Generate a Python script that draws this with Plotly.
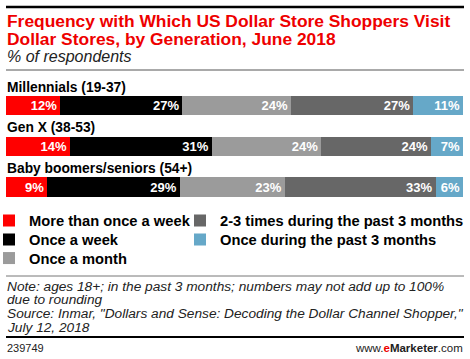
import plotly.graph_objects as go

W, H = 470, 359

groups = ["Millennials (19-37)", "Gen X (38-53)", "Baby boomers/seniors (54+)"]
series_names = [
    "More than once a week",
    "Once a week",
    "Once a month",
    "2-3 times during the past 3 months",
    "Once during the past 3 months",
]
more_than_once_week = [12, 14, 9]
once_week = [27, 31, 29]
once_month = [24, 24, 23]
two_three_times = [27, 24, 33]
once_past_3m = [11, 7, 6]
series_values = [more_than_once_week, once_week, once_month, two_three_times, once_past_3m]
colors = ["#ff0000", "#000000", "#9b9b9b", "#676767", "#66a8c8"]
legend_ids = ["legend", "legend2", "legend3", "legend4", "legend5"]

FONT = "Liberation Sans, Arial, sans-serif"


def py(p):
    return 1 - p / H


def px(p):
    return p / W


fig = go.Figure()
for name, vals, col, lg in zip(series_names, series_values, colors, legend_ids):
    fig.add_trace(go.Bar(
        y=groups, x=vals, name=name, orientation="h",
        marker=dict(color=col, line=dict(width=0)),
        text=[f"<b>{v}%</b>" for v in vals],
        textposition="inside", insidetextanchor="end", constraintext="none",
        textfont=dict(color="white", size=13, family=FONT),
        cliponaxis=False, legend=lg,
    ))

annotations = [
    dict(text="<b>Frequency with Which US Dollar Store Shoppers Visit</b>", x=px(5), y=py(21),
         font=dict(size=17.4, color="#ee0000", family=FONT)),
    dict(text="<b>Dollar Stores, by Generation, June 2018</b>", x=px(5), y=py(38.5),
         font=dict(size=17.4, color="#ee0000", family=FONT)),
    dict(text="<i>% of respondents</i>", x=px(5), y=py(56.5),
         font=dict(size=16, color="#222", family=FONT)),
    dict(text="<i>Note: ages 18+; in the past 3 months; numbers may not add up to 100%</i>",
         x=px(5), y=py(286), font=dict(size=13.7, color="#222", family=FONT)),
    dict(text="<i>due to rounding</i>", x=px(5), y=py(299.5), font=dict(size=13.7, color="#222", family=FONT)),
    dict(text="<i>Source: Inmar, \"Dollars and Sense: Decoding the Dollar Channel Shopper,\"</i>",
         x=px(5), y=py(313), font=dict(size=13.7, color="#222", family=FONT)),
    dict(text="<i>July 12, 2018</i>", x=px(5), y=py(327.5), font=dict(size=13.7, color="#222", family=FONT)),
    dict(text="239749", x=px(5), y=py(348), font=dict(size=11, color="#222", family=FONT)),
    dict(text="www.<b><span style='color:#ee0000'>e</span>Marketer</b>.com", x=px(465), y=py(348),
         xanchor="right", font=dict(size=11.5, color="#222", family=FONT)),
]
for a in annotations:
    a.setdefault("xanchor", "left")
    a.update(xref="paper", yref="paper", yanchor="middle", showarrow=False)

for g in groups:
    annotations.append(dict(
        text=f"<b>{g}</b>", xref="paper", yref="y", x=px(5), y=g, yshift=18.5,
        xanchor="left", yanchor="middle", showarrow=False,
        font=dict(size=13.8, color="#000", family=FONT)))

shapes = [
    dict(type="line", xref="paper", yref="paper", x0=px(6), x1=px(464), y0=py(7), y1=py(7),
         line=dict(color="#000", width=2.5)),
    dict(type="line", xref="paper", yref="paper", x0=px(6), x1=px(464), y0=py(70), y1=py(70),
         line=dict(color="#555", width=1)),
    dict(type="line", xref="paper", yref="paper", x0=px(6), x1=px(464), y0=py(276), y1=py(276),
         line=dict(color="#777", width=1)),
    dict(type="line", xref="paper", yref="paper", x0=px(6), x1=px(464), y0=py(337), y1=py(337),
         line=dict(color="#000", width=2)),
]

legend_common = dict(
    orientation="v", bgcolor="rgba(0,0,0,0)", borderwidth=0, tracegroupgap=0,
    traceorder="normal",
    font=dict(size=14.7, color="#000", family=FONT, weight="bold"), xanchor="left", yanchor="middle",
    itemclick=False, itemdoubleclick=False,
)
# legend entry positions (pixels): column x, row y
legend_pos = [(-11, 221), (-11, 240), (-11, 258.5), (180, 221), (180, 240)]
legend_layout = {
    lid: dict(x=px(lx), y=py(ly), **legend_common)
    for lid, (lx, ly) in zip(legend_ids, legend_pos)
}

fig.update_layout(
    width=W, height=H,
    margin=dict(l=0, r=0, t=0, b=0, autoexpand=False),
    paper_bgcolor="white", plot_bgcolor="white",
    barmode="stack", barnorm="percent", bargap=0.525,
    showlegend=True,
    xaxis=dict(range=[0, 100], visible=False, fixedrange=True, domain=[px(6), px(463)]),
    yaxis=dict(autorange="reversed", visible=False, domain=[1 - 215.1 / H, 1 - 85.4 / H],
               fixedrange=True),
    annotations=annotations,
    shapes=shapes,
    uniformtext=dict(mode=False),
    **legend_layout,
)

fig.write_html("out.html", config={"displayModeBar": False},
               post_script="document.body.style.margin='0';")
